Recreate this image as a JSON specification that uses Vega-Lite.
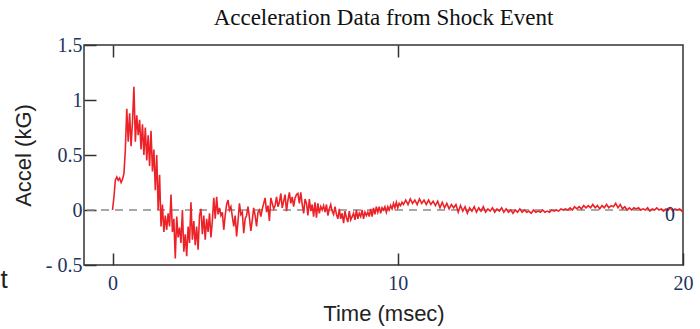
{
  "$schema": "https://vega.github.io/schema/vega-lite/v6.json",
  "width": 599,
  "height": 220,
  "autosize": {"type": "none"},
  "padding": {"left": 84, "top": 45, "right": 17, "bottom": 64},
  "background": "white",
  "view": {"stroke": "#333333", "strokeWidth": 1.5},
  "title": {
    "text": "Acceleration Data from Shock Event",
    "font": "Liberation Serif",
    "fontSize": 23,
    "fontWeight": "normal",
    "color": "#111111",
    "anchor": "middle",
    "offset": 5
  },
  "data": {"values": [
    {"t":0.00,"a":0},{"t":0.05,"a":0.12},{"t":0.10,"a":0.27},{"t":0.15,"a":0.30},{"t":0.20,"a":0.27},{"t":0.25,"a":0.29},{"t":0.30,"a":0.25},{"t":0.35,"a":0.28},{"t":0.40,"a":0.33},{"t":0.45,"a":0.55},
    {"t":0.50,"a":0.92},{"t":0.55,"a":0.62},{"t":0.60,"a":0.88},{"t":0.65,"a":0.58},{"t":0.70,"a":0.80},{"t":0.75,"a":1.12},{"t":0.80,"a":0.62},{"t":0.85,"a":0.86},{"t":0.90,"a":0.68},{"t":0.95,"a":0.82},
    {"t":1.00,"a":0.55},{"t":1.05,"a":0.78},{"t":1.10,"a":0.50},{"t":1.15,"a":0.75},{"t":1.20,"a":0.45},{"t":1.25,"a":0.68},{"t":1.30,"a":0.40},{"t":1.35,"a":0.72},{"t":1.40,"a":0.35},{"t":1.45,"a":0.55},
    {"t":1.50,"a":0.18},{"t":1.55,"a":0.50},{"t":1.60,"a":0.00},{"t":1.65,"a":0.32},{"t":1.70,"a":-0.15},{"t":1.75,"a":0.05},{"t":1.80,"a":-0.20},
    {"t":1.85,"a":-0.05},{"t":1.90,"a":-0.18},{"t":1.95,"a":-0.03},{"t":2.00,"a":-0.15},{"t":2.05,"a":0.14},{"t":2.10,"a":-0.20},{"t":2.15,"a":-0.08},{"t":2.20,"a":-0.44},{"t":2.25,"a":-0.06},
    {"t":2.30,"a":-0.25},{"t":2.35,"a":-0.16},{"t":2.40,"a":-0.30},{"t":2.45,"a":0.00},{"t":2.50,"a":-0.38},{"t":2.55,"a":-0.22},{"t":2.60,"a":-0.42},{"t":2.65,"a":-0.15},{"t":2.70,"a":-0.30},{"t":2.75,"a":0.07},
    {"t":2.80,"a":-0.27},{"t":2.85,"a":-0.10},{"t":2.90,"a":-0.32},{"t":2.95,"a":-0.15},{"t":3.00,"a":-0.36},{"t":3.05,"a":-0.05},{"t":3.10,"a":0.01},{"t":3.15,"a":-0.22},{"t":3.20,"a":-0.05},{"t":3.25,"a":-0.27},
    {"t":3.30,"a":-0.08},{"t":3.35,"a":-0.20},{"t":3.40,"a":-0.03},{"t":3.45,"a":-0.25},{"t":3.50,"a":-0.10},{"t":3.55,"a":0.11},{"t":3.60,"a":-0.08},
    {"t":3.65,"a":0.12},{"t":3.70,"a":-0.04},{"t":3.75,"a":0.02},{"t":3.80,"a":-0.05},{"t":3.85,"a":-0.02},{"t":3.90,"a":-0.18},{"t":3.95,"a":-0.05},{"t":4.00,"a":0.05},{"t":4.05,"a":0.09},{"t":4.10,"a":0.00},
    {"t":4.15,"a":0.03},{"t":4.20,"a":-0.06},{"t":4.25,"a":-0.15},{"t":4.30,"a":-0.05},{"t":4.35,"a":-0.24},{"t":4.40,"a":-0.10},{"t":4.45,"a":0.06},{"t":4.50,"a":-0.04},{"t":4.55,"a":-0.02},{"t":4.60,"a":-0.21},
    {"t":4.65,"a":-0.08},{"t":4.70,"a":-0.05},{"t":4.75,"a":0.03},{"t":4.80,"a":-0.07},{"t":4.85,"a":-0.19},{"t":4.90,"a":-0.09},{"t":4.95,"a":0.02},{"t":5.00,"a":-0.05},{"t":5.05,"a":-0.15},{"t":5.10,"a":-0.02},
    {"t":5.15,"a":0.00},{"t":5.20,"a":-0.06},{"t":5.25,"a":0.01},{"t":5.30,"a":0.06},{"t":5.35,"a":0.11},{"t":5.40,"a":-0.02},{"t":5.45,"a":0.04},{"t":5.50,"a":-0.10},{"t":5.55,"a":0.11},{"t":5.60,"a":0.06},{"t":5.65,"a":0.01},
    {"t":5.70,"a":0.04},{"t":5.75,"a":0.12},{"t":5.80,"a":0.03},{"t":5.85,"a":0.07},{"t":5.90,"a":0.15},{"t":5.95,"a":0.02},{"t":6.00,"a":0.08},{"t":6.05,"a":0.14},{"t":6.10,"a":-0.01},{"t":6.15,"a":0.09},
    {"t":6.20,"a":0.16},{"t":6.25,"a":0.06},{"t":6.30,"a":0.12},{"t":6.35,"a":0.03},{"t":6.40,"a":0.11},{"t":6.45,"a":0.14},{"t":6.50,"a":0.15},{"t":6.55,"a":0.06},{"t":6.60,"a":0.16},{"t":6.65,"a":0.05},
    {"t":6.70,"a":-0.03},{"t":6.75,"a":0.10},{"t":6.80,"a":0.06},{"t":6.85,"a":-0.05},{"t":6.90,"a":0.10},{"t":6.95,"a":-0.01},{"t":7.00,"a":0.05},{"t":7.05,"a":-0.06},{"t":7.10,"a":0.07},{"t":7.15,"a":-0.07},
    {"t":7.20,"a":0.06},{"t":7.25,"a":-0.03},{"t":7.30,"a":0.03},{"t":7.35,"a":0.00},{"t":7.40,"a":0.04},{"t":7.45,"a":-0.02},
    {"t":7.50,"a":0.05},{"t":7.55,"a":-0.05},{"t":7.60,"a":0.01},{"t":7.65,"a":0.05},{"t":7.70,"a":-0.01},{"t":7.75,"a":-0.04},{"t":7.80,"a":0.03},{"t":7.85,"a":-0.04},{"t":7.90,"a":-0.08},{"t":7.95,"a":0.01},
    {"t":8.00,"a":-0.08},{"t":8.05,"a":-0.03},{"t":8.10,"a":-0.12},{"t":8.15,"a":-0.01},{"t":8.20,"a":-0.07},{"t":8.25,"a":-0.11},{"t":8.30,"a":-0.01},{"t":8.35,"a":-0.09},{"t":8.40,"a":-0.06},{"t":8.45,"a":-0.03},
    {"t":8.50,"a":-0.09},{"t":8.55,"a":0.00},{"t":8.60,"a":-0.08},{"t":8.65,"a":-0.03},{"t":8.70,"a":-0.06},{"t":8.75,"a":0.00},{"t":8.80,"a":-0.08},{"t":8.85,"a":-0.02},{"t":8.90,"a":-0.05},{"t":8.95,"a":-0.02},
    {"t":9.00,"a":-0.06},{"t":9.05,"a":0.01},{"t":9.10,"a":-0.06},{"t":9.15,"a":0.02},{"t":9.20,"a":-0.04},{"t":9.25,"a":0.03},{"t":9.30,"a":-0.02},{"t":9.35,"a":0.03},{"t":9.40,"a":-0.03},{"t":9.45,"a":0.02},
    {"t":9.50,"a":0.00},{"t":9.55,"a":0.03},{"t":9.60,"a":-0.02},{"t":9.65,"a":0.03},{"t":9.70,"a":0.00},{"t":9.75,"a":0.04},{"t":9.80,"a":0.01},{"t":9.85,"a":0.06},{"t":9.90,"a":0.02},{"t":9.95,"a":0.07},
    {"t":10.00,"a":0.02},{"t":10.05,"a":0.06},{"t":10.10,"a":0.04},{"t":10.15,"a":0.07},
    {"t":10.20,"a":0.05},{"t":10.28,"a":0.09},{"t":10.36,"a":0.05},{"t":10.44,"a":0.10},{"t":10.52,"a":0.06},{"t":10.60,"a":0.09},{"t":10.68,"a":0.05},{"t":10.76,"a":0.10},{"t":10.84,"a":0.06},{"t":10.92,"a":0.09},
    {"t":11.00,"a":0.05},{"t":11.08,"a":0.09},{"t":11.16,"a":0.05},{"t":11.24,"a":0.08},{"t":11.32,"a":0.04},{"t":11.40,"a":0.08},
    {"t":11.48,"a":0.02},{"t":11.56,"a":0.07},{"t":11.64,"a":0.02},{"t":11.72,"a":0.06},{"t":11.80,"a":0.01},{"t":11.88,"a":0.05},{"t":11.96,"a":0.02},{"t":12.04,"a":0.05},
    {"t":12.12,"a":-0.02},{"t":12.20,"a":0.04},{"t":12.28,"a":-0.01},{"t":12.36,"a":0.03},{"t":12.44,"a":-0.03},{"t":12.52,"a":0.02},{"t":12.60,"a":-0.01},{"t":12.68,"a":0.03},{"t":12.76,"a":-0.02},{"t":12.84,"a":0.02},
    {"t":12.92,"a":-0.01},{"t":13.00,"a":0.03},{"t":13.08,"a":-0.02},{"t":13.16,"a":0.01},{"t":13.24,"a":-0.01},{"t":13.32,"a":0.02},{"t":13.40,"a":-0.02},{"t":13.48,"a":0.01},{"t":13.56,"a":-0.01},{"t":13.64,"a":0.02},
    {"t":13.72,"a":-0.02},{"t":13.80,"a":0.01},{"t":13.88,"a":-0.02},{"t":13.96,"a":0.00},{"t":14.04,"a":-0.03},{"t":14.12,"a":0.00},{"t":14.20,"a":-0.02},{"t":14.28,"a":0.01},{"t":14.36,"a":-0.02},{"t":14.44,"a":0.00},
    {"t":14.52,"a":-0.02},{"t":14.60,"a":-0.01},{"t":14.68,"a":-0.03},{"t":14.76,"a":0.00},{"t":14.84,"a":-0.02},{"t":14.92,"a":-0.01},{"t":15.00,"a":-0.02},{"t":15.08,"a":0.00},{"t":15.16,"a":-0.02},{"t":15.24,"a":-0.01},
    {"t":15.32,"a":-0.02},{"t":15.40,"a":0.00},{"t":15.48,"a":-0.01},{"t":15.56,"a":0.00},{"t":15.64,"a":-0.01},{"t":15.72,"a":0.01},{"t":15.80,"a":0.00},{"t":15.88,"a":0.01},{"t":15.96,"a":0.00},
    {"t":16.04,"a":0.02},{"t":16.12,"a":0.00},{"t":16.20,"a":0.03},{"t":16.28,"a":0.01},{"t":16.36,"a":0.03},{"t":16.44,"a":0.01},{"t":16.52,"a":0.04},{"t":16.60,"a":0.02},{"t":16.68,"a":0.04},{"t":16.76,"a":0.02},
    {"t":16.84,"a":0.05},{"t":16.92,"a":0.02},{"t":17.00,"a":0.04},{"t":17.08,"a":0.01},{"t":17.16,"a":0.04},{"t":17.24,"a":0.02},{"t":17.32,"a":0.05},{"t":17.40,"a":0.02},{"t":17.48,"a":0.04},{"t":17.56,"a":0.03},
    {"t":17.64,"a":0.06},{"t":17.72,"a":0.02},{"t":17.80,"a":0.05},
    {"t":17.88,"a":0.01},{"t":17.96,"a":0.03},{"t":18.04,"a":0.00},{"t":18.12,"a":0.02},{"t":18.20,"a":0.00},{"t":18.28,"a":0.02},{"t":18.36,"a":0.01},{"t":18.44,"a":0.02},{"t":18.52,"a":0.00},{"t":18.60,"a":0.01},
    {"t":18.68,"a":0.00},{"t":18.76,"a":0.02},{"t":18.84,"a":-0.01},{"t":18.92,"a":0.01},{"t":19.00,"a":0.00},{"t":19.08,"a":0.02},{"t":19.16,"a":0.00},{"t":19.24,"a":0.01},{"t":19.32,"a":-0.01},{"t":19.40,"a":0.01},
    {"t":19.48,"a":0.00},{"t":19.56,"a":0.02},{"t":19.64,"a":-0.01},{"t":19.72,"a":0.01},{"t":19.80,"a":0.00},{"t":19.88,"a":0.01},{"t":19.96,"a":-0.01},{"t":20.00,"a":0.00}
  ]},
  "layer": [
    {
      "data": {"values": [{"z": 0}]},
      "mark": {"type": "rule", "stroke": "#8c8c8c", "strokeWidth": 1.3, "strokeDash": [8, 6]},
      "encoding": {
        "y": {"field": "z", "type": "quantitative", "scale": {"domain": [-0.5, 1.5], "nice": false, "zero": false}}
      }
    },
    {
      "mark": {"type": "line", "stroke": "#ec2228", "strokeWidth": 1.6, "clip": true},
      "encoding": {
        "x": {
          "field": "t", "type": "quantitative",
          "scale": {"domain": [-1, 20], "nice": false, "zero": false},
          "axis": {
            "orient": "bottom", "values": [0, 10, 20], "domain": false, "grid": false,
            "tickSize": -12, "tickColor": "#333333", "tickWidth": 1.5,
            "labelFont": "Liberation Serif", "labelFontSize": 20, "labelColor": "#22335e", "labelPadding": 20,
            "labelFlush": false, "labelOverlap": false,
            "title": "Time (msec)", "titleFont": "Liberation Sans", "titleFontSize": 22, "titleFontWeight": "normal", "titleColor": "#222222", "titlePadding": 10
          }
        },
        "y": {
          "field": "a", "type": "quantitative",
          "scale": {"domain": [-0.5, 1.5], "nice": false, "zero": false},
          "axis": {
            "values": [-0.5, 0, 0.5, 1, 1.5], "domain": false, "grid": false,
            "tickSize": -12, "tickColor": "#333333", "tickWidth": 1.5,
            "labelExpr": "datum.value < 0 ? '- ' + abs(datum.value) : '' + datum.value",
            "labelFont": "Liberation Serif", "labelFontSize": 20, "labelColor": "#22335e", "labelPadding": 14,
            "labelFlush": false, "labelOverlap": false,
            "title": "Accel (kG)", "titleFont": "Liberation Sans", "titleFontSize": 22, "titleFontWeight": "normal", "titleColor": "#222222", "titlePadding": 10
          }
        }
      }
    },
    {
      "data": {"values": [{"lx": 19.54, "ly": -0.045, "lab": "0"}]},
      "mark": {"type": "text", "font": "Liberation Serif", "fontSize": 20, "color": "#22335e", "baseline": "middle", "align": "center"},
      "encoding": {
        "x": {
          "field": "lx", "type": "quantitative",
          "axis": {"orient": "top", "values": [0, 10], "domain": false, "grid": false, "labels": false, "title": null,
                   "tickSize": -12, "tickColor": "#333333", "tickWidth": 1.5}
        },
        "y": {"field": "ly", "type": "quantitative"},
        "text": {"field": "lab"}
      }
    },
    {
      "data": {"values": [{"lx": -3.8, "ly": -0.64, "lab": "t"}]},
      "mark": {"type": "text", "font": "Liberation Sans", "fontSize": 26, "color": "#222222", "baseline": "middle", "align": "center"},
      "encoding": {
        "x": {"field": "lx", "type": "quantitative", "axis": null},
        "y": {"field": "ly", "type": "quantitative"},
        "text": {"field": "lab"}
      }
    }
  ],
  "resolve": {"axis": {"x": "independent"}}
}
